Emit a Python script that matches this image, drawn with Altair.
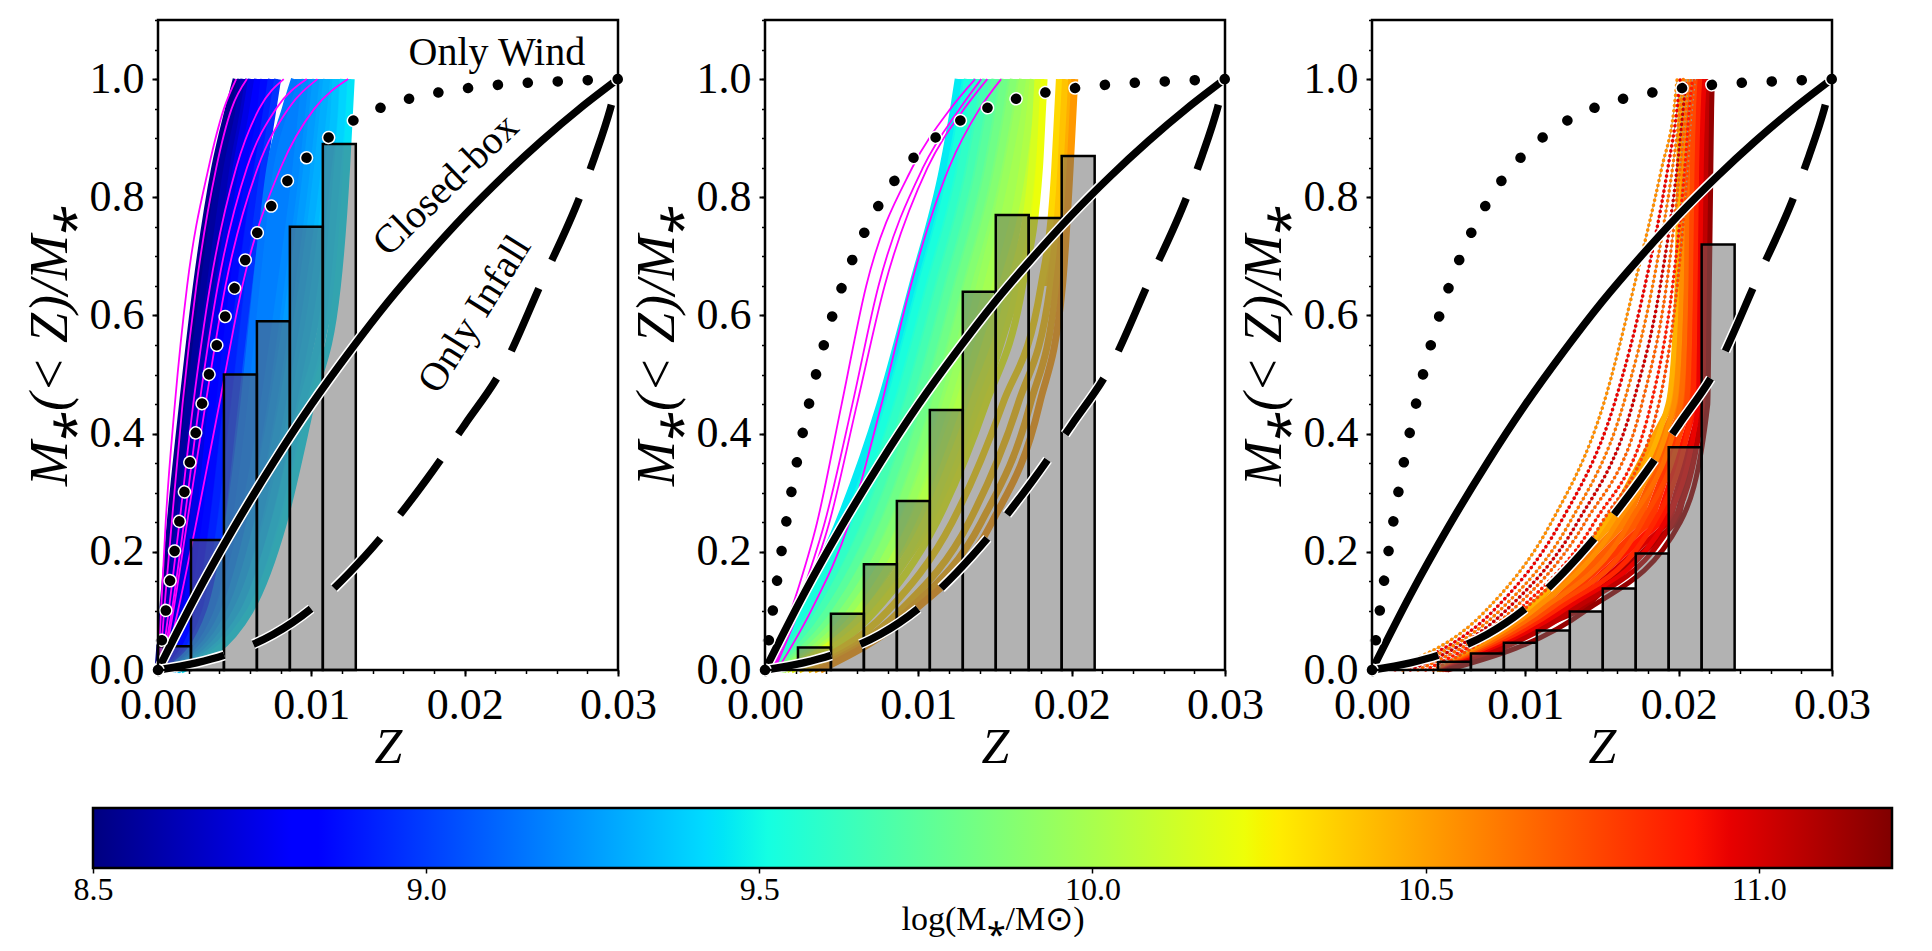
import altair as alt
import pandas as pd

FONT = "Liberation Serif"

# ---------------- data ----------------
# cumulative levels M*(<Z)/M* at which every galaxy curve is sampled
LEVELS = [0, 0.1, 0.25, 0.45, 0.65, 0.85, 0.95, 1.0]

# panel 1 : low-mass galaxies (Z reached at each level)
P1_MASS = [8.52, 8.57, 8.62, 8.67, 8.74, 8.80, 8.86, 8.92, 8.97,
           9.15, 9.20, 9.25, 9.30, 9.35, 9.40, 9.44]
P1_Z = [
    [0.0000, 0.0003, 0.0008, 0.0016, 0.0025, 0.0037, 0.0046, 0.0051],
    [0.00002, 0.0005, 0.0011, 0.0020, 0.0030, 0.0041, 0.0050, 0.0054],
    [0.0001, 0.0007, 0.0014, 0.0024, 0.0034, 0.0045, 0.0053, 0.0056],
    [0.0001, 0.0009, 0.0017, 0.0028, 0.0039, 0.0049, 0.0056, 0.0059],
    [0.0002, 0.0014, 0.0023, 0.0031, 0.0040, 0.0051, 0.0058, 0.0061],
    [0.0003, 0.0018, 0.0027, 0.0035, 0.0044, 0.0055, 0.0062, 0.0065],
    [0.0004, 0.0022, 0.0031, 0.0040, 0.0049, 0.0060, 0.0067, 0.0069],
    [0.0005, 0.0027, 0.0036, 0.0045, 0.0054, 0.0065, 0.0071, 0.0074],
    [0.0006, 0.0031, 0.0041, 0.0050, 0.0059, 0.0069, 0.0075, 0.0078],
    [0.0007, 0.0034, 0.0046, 0.0056, 0.0064, 0.0073, 0.0083, 0.0089],
    [0.0008, 0.0039, 0.0055, 0.0069, 0.0080, 0.0090, 0.0094, 0.0096],
    [0.0009, 0.0043, 0.0060, 0.0075, 0.0087, 0.0097, 0.0101, 0.0103],
    [0.0010, 0.0047, 0.0065, 0.0081, 0.0094, 0.0104, 0.0108, 0.0110],
    [0.0012, 0.0051, 0.0071, 0.0088, 0.0102, 0.0111, 0.0115, 0.0116],
    [0.0013, 0.0056, 0.0076, 0.0094, 0.0110, 0.0117, 0.0120, 0.0121],
    [0.0015, 0.0060, 0.0082, 0.0100, 0.0117, 0.0123, 0.0125, 0.0126],
]
P1_MAGENTA_Z = [
    [0.0000, 0.0002, 0.0005, 0.0011, 0.0019, 0.0033, 0.0043, 0.0051],
    [0.0001, 0.0004, 0.0009, 0.0016, 0.0025, 0.0038, 0.0048, 0.0058],
    [0.0002, 0.0009, 0.0017, 0.0027, 0.0039, 0.0058, 0.0077, 0.0097],
    [0.0002, 0.0007, 0.0014, 0.0023, 0.0034, 0.0051, 0.0066, 0.0082],
    [0.0003, 0.0010, 0.0019, 0.0031, 0.0044, 0.0065, 0.0085, 0.0104],
    [0.0004, 0.0013, 0.0025, 0.0040, 0.0055, 0.0080, 0.0102, 0.0124],
]
# filled fans between neighbouring curves: (curve a, curve b, first level, last level)
P1_BANDS = [(0, 1, 0, 7), (1, 2, 0, 7), (2, 3, 0, 7), (3, 4, 0, 5),
            (4, 5, 0, 7), (5, 6, 0, 7), (6, 7, 0, 7), (7, 8, 0, 7), (8, 9, 0, 5),
            (9, 10, 0, 7), (10, 11, 0, 7), (11, 12, 0, 7), (12, 13, 0, 7),
            (13, 14, 0, 7), (14, 15, 0, 7)]

# panel 2 : intermediate masses
P2_MASS = [9.46, 9.53, 9.60, 9.67, 9.74, 9.81, 9.88, 9.95, 10.02,
           10.15, 10.22, 10.34, 10.40, 10.46, 10.52]
P2_Z = [
    [0.0004, 0.0021, 0.0048, 0.0075, 0.0096, 0.0116, 0.0123, 0.0126],
    [0.0005, 0.0026, 0.0054, 0.0081, 0.0102, 0.0122, 0.0129, 0.0132],
    [0.0006, 0.0031, 0.0060, 0.0087, 0.0108, 0.0128, 0.0135, 0.0138],
    [0.0007, 0.0036, 0.0066, 0.0093, 0.0114, 0.0134, 0.0141, 0.0144],
    [0.0008, 0.0041, 0.0072, 0.0099, 0.0120, 0.0140, 0.0147, 0.0150],
    [0.0009, 0.0046, 0.0078, 0.0105, 0.0126, 0.0146, 0.0153, 0.0156],
    [0.0010, 0.0051, 0.0084, 0.0111, 0.0132, 0.0152, 0.0159, 0.0162],
    [0.0011, 0.0056, 0.0090, 0.0118, 0.0140, 0.0158, 0.0165, 0.0168],
    [0.0012, 0.0061, 0.0096, 0.0126, 0.0150, 0.0168, 0.0173, 0.0175],
    [0.0014, 0.0066, 0.0104, 0.0135, 0.0160, 0.0174, 0.0177, 0.0178],
    [0.0017, 0.0072, 0.0112, 0.0144, 0.0168, 0.0179, 0.0181, 0.0182],
    [0.0022, 0.0080, 0.0122, 0.0155, 0.0180, 0.0189, 0.0191, 0.0192],
    [0.0028, 0.0088, 0.0133, 0.0165, 0.0186, 0.0193, 0.0195, 0.0196],
    [0.0032, 0.0093, 0.0141, 0.0173, 0.0190, 0.0197, 0.0199, 0.0200],
    [0.0036, 0.0097, 0.0148, 0.0179, 0.0194, 0.0199, 0.0201, 0.0202],
]
P2_MAGENTA_Z = [
    [0.0004, 0.0017, 0.0034, 0.0050, 0.0066, 0.0096, 0.0121, 0.0137],
    [0.0005, 0.0020, 0.0039, 0.0057, 0.0074, 0.0103, 0.0127, 0.0141],
    [0.0006, 0.0022, 0.0042, 0.0060, 0.0078, 0.0106, 0.0130, 0.0145],
    [0.0008, 0.0030, 0.0055, 0.0076, 0.0095, 0.0120, 0.0140, 0.0154],
]
P2_BANDS = [(0, 1, 0, 7), (1, 2, 0, 7), (2, 3, 0, 7), (3, 4, 0, 7),
            (4, 5, 0, 7), (5, 6, 0, 7), (6, 7, 0, 7), (7, 8, 0, 7),
            (8, 9, 0, 6), (9, 10, 0, 7), (11, 12, 4, 7), (13, 14, 4, 7)]

# panel 3 : massive galaxies
P3_SPARSE_MASS = [10.55, 10.95, 10.62, 11.02, 10.68, 10.88, 10.75]
P3_SPARSE_Z = [
    [0.0010, 0.0074, 0.0117, 0.0151, 0.0171, 0.0189, 0.0197, 0.0199],
    [0.0015, 0.0079, 0.0123, 0.0158, 0.0178, 0.0193, 0.0199, 0.0201],
    [0.0020, 0.0083, 0.0129, 0.0164, 0.0183, 0.0196, 0.0201, 0.0203],
    [0.0025, 0.0087, 0.0134, 0.0170, 0.0188, 0.0199, 0.0203, 0.0205],
    [0.0030, 0.0091, 0.0139, 0.0176, 0.0192, 0.0201, 0.0205, 0.0207],
    [0.0035, 0.0095, 0.0145, 0.0182, 0.0196, 0.0204, 0.0207, 0.0209],
    [0.0040, 0.0098, 0.0150, 0.0187, 0.0199, 0.0206, 0.0209, 0.0211],
]
P3_DENSE_MASS = [10.45, 10.55, 10.65, 10.75, 10.85, 10.95, 11.05, 11.15]
P3_DENSE_Z = [
    [0.0042, 0.0100, 0.0152, 0.0193, 0.0199, 0.0200, 0.0201, 0.0202],
    [0.0043, 0.0105, 0.0160, 0.0197, 0.0202, 0.0203, 0.0204, 0.0205],
    [0.0044, 0.0110, 0.0168, 0.0201, 0.0205, 0.0206, 0.0207, 0.0208],
    [0.0045, 0.0115, 0.0176, 0.0205, 0.0208, 0.0209, 0.0210, 0.0211],
    [0.0046, 0.0120, 0.0184, 0.0209, 0.0211, 0.0212, 0.0213, 0.0214],
    [0.0047, 0.0125, 0.0191, 0.0213, 0.0214, 0.0215, 0.0216, 0.0217],
    [0.0048, 0.0130, 0.0196, 0.0216, 0.0217, 0.0218, 0.0219, 0.0220],
    [0.0049, 0.0139, 0.0201, 0.0219, 0.0220, 0.0221, 0.02215, 0.0222],
]
P3_BANDS = [(0, 1, 0, 7), (1, 2, 0, 7), (2, 3, 0, 7), (3, 4, 0, 7),
            (4, 5, 0, 7), (5, 6, 0, 7), (6, 7, 0, 7)]

# histograms (common bin edges)
EDGES = [0, 0.00215, 0.0043, 0.00645, 0.0086, 0.01075, 0.0129,
         0.01505, 0.0172, 0.01935, 0.0215, 0.02365]
P1_HIST_FIRST, P1_HIST = 0, [0.04, 0.22, 0.50, 0.59, 0.75, 0.89]
P2_HIST_FIRST, P2_HIST = 1, [0.038, 0.095, 0.179, 0.286, 0.44, 0.64, 0.77, 0.765, 0.87]
P3_HIST_FIRST, P3_HIST = 2, [0.014, 0.028, 0.046, 0.067, 0.099, 0.138, 0.197, 0.377, 0.72]

# analytic models
WIND_Z = [0, 0.0005, 0.001, 0.0015, 0.002, 0.003, 0.004, 0.005, 0.006, 0.007, 0.008,
          0.009, 0.010, 0.012, 0.014, 0.016, 0.018, 0.020, 0.023, 0.026, 0.030]
WIND_V = [0, 0.099, 0.188, 0.268, 0.341, 0.465, 0.565, 0.647, 0.713, 0.767, 0.811,
          0.847, 0.875, 0.918, 0.946, 0.964, 0.976, 0.984, 0.992, 0.996, 1.0]
BOX_Z = [0, 0.0025, 0.005, 0.0075, 0.01, 0.0125, 0.015, 0.0175, 0.02, 0.0225, 0.025, 0.0275, 0.03]
BOX_V = [0, 0.127, 0.243, 0.350, 0.449, 0.539, 0.623, 0.699, 0.770, 0.835, 0.895, 0.950, 1.0]
INF_Z = [0, 0.0025, 0.005, 0.0075, 0.01, 0.0125, 0.015, 0.0175, 0.02, 0.0225, 0.025,
         0.0275, 0.0285, 0.0295, 0.03]
INF_V = [0, 0.012, 0.031, 0.060, 0.104, 0.165, 0.238, 0.322, 0.415, 0.512, 0.655,
         0.80, 0.87, 0.95, 1.0]

ANNOT_TEXT = ["Only Wind", "Closed-box", "Only Infall"]
ANNOT_Z = [0.0221, 0.01878, 0.02067]
ANNOT_V = [1.024, 0.8206, 0.602]

# jet colour map, log(M*/Msun) from 8.5 to 11.2
CBAR_MIN, CBAR_MAX = 8.5, 11.2
JET_DOMAIN = [8.5, 8.797, 8.8375, 9.418, 9.445, 9.5125, 10.228, 10.255, 10.282, 10.903, 10.957, 11.2]
JET_COLORS = ["#000080", "#0000ff", "#0000ff", "#00dbff", "#00e5f7", "#14ffe2",
              "#eeff08", "#f7f500", "#ffec00", "#ff1300", "#e80000", "#800000"]
CBAR_TICKS = [8.5, 9.0, 9.5, 10.0, 10.5, 11.0]

X_DOMAIN = [0, 0.03]
Y_DOMAIN = [0, 1.1]
X_TICKS = [0, 0.01, 0.02, 0.03]
Y_TICKS = [0, 0.2, 0.4, 0.6, 0.8, 1.0]
X_MINOR = [0, 0.002, 0.004, 0.006, 0.008, 0.010, 0.012, 0.014, 0.016, 0.018,
           0.020, 0.022, 0.024, 0.026, 0.028, 0.030]
Y_MINOR = [0, 0.05, 0.1, 0.15, 0.2, 0.25, 0.3, 0.35, 0.4, 0.45, 0.5, 0.55,
           0.6, 0.65, 0.7, 0.75, 0.8, 0.85, 0.9, 0.95, 1.0, 1.05, 1.1]

# ---------------- tables ----------------
def curve_table(masses, rows, tag):
    out = []
    for k, zs in enumerate(rows):
        m = masses[k] if masses is not None else 0.0
        for lv, z in zip(LEVELS, zs):
            out.append({"cid": f"{tag}{k}", "mass": m, "z": z, "v": lv})
    return pd.DataFrame(out)


def band_table(masses, rows, specs, tag):
    out = []
    for b, (i, j, lo, hi) in enumerate(specs):
        m = round((masses[i] + masses[j]) / 2, 4)
        for li in range(lo, hi + 1):
            out.append({"bid": f"{tag}{b}", "mass": m, "v": LEVELS[li],
                        "zl": rows[i][li], "zr": rows[j][li]})
    return pd.DataFrame(out)


def hist_table(first, heights):
    out = []
    for k, h in enumerate(heights):
        out.append({"z0": EDGES[first + k], "z1": EDGES[first + k + 1], "h": h, "base": 0.0})
    return pd.DataFrame(out)


WIND = pd.DataFrame({"z": WIND_Z, "v": WIND_V})
BOX = pd.DataFrame({"z": BOX_Z, "v": BOX_V})
INF = pd.DataFrame({"z": INF_Z, "v": INF_V})
FRAME = pd.DataFrame({"x0": [X_DOMAIN[0]], "x1": [X_DOMAIN[1]], "y0": [Y_DOMAIN[0]], "y1": [Y_DOMAIN[1]]})
CBAR = pd.DataFrame({"lo": [CBAR_MIN], "hi": [CBAR_MAX], "b": [0.0], "t": [1.0]})
SPACER = pd.DataFrame({"a": [0]})

# ---------------- scales / guides ----------------
XS = alt.Scale(domain=X_DOMAIN, nice=False, zero=False)
YS = alt.Scale(domain=Y_DOMAIN, nice=False, zero=False)
CS = alt.Scale(domain=JET_DOMAIN, range=JET_COLORS, interpolate="rgb")

AX_X = alt.Axis(orient="bottom", values=X_TICKS, format=".2f", labelFont=FONT, labelFontSize=44,
                labelColor="black", labelPadding=7, labelFlush=False, labelOverlap=False,
                tickSize=6, tickWidth=2, tickColor="black", domain=False, grid=False,
                title="Z", titleFont=FONT, titleFontStyle="italic", titleFontSize=50,
                titleFontWeight="normal", titleColor="black", titlePadding=-5)
AX_Y = alt.Axis(orient="left", values=Y_TICKS, format=".1f", labelFont=FONT, labelFontSize=44,
                labelColor="black", labelPadding=8, labelFlush=False, labelOverlap=False,
                tickSize=6, tickWidth=2, tickColor="black", domain=False, grid=False,
                title="M⁎(< Z)/M⁎", titleFont=FONT, titleFontStyle="italic", titleFontSize=54,
                titleFontWeight="normal", titleColor="black", titlePadding=12)
AX_XM = alt.Axis(orient="bottom", values=X_MINOR, labels=False, tickSize=3.5, tickWidth=1.5,
                 tickColor="black", domain=False, grid=False, title=None)
AX_YM = alt.Axis(orient="left", values=Y_MINOR, labels=False, tickSize=3.5, tickWidth=1.5,
                 tickColor="black", domain=False, grid=False, title=None)
AX_CBAR = alt.Axis(orient="bottom", values=CBAR_TICKS, format=".1f", labelFont=FONT,
                   labelFontSize=32, labelColor="black", labelPadding=1, labelFlush=False,
                   labelOverlap=False, tickSize=5, tickWidth=1.5, tickColor="black",
                   domain=False, grid=False, title="log(M⁎/M⊙)", titleFont=FONT,
                   titleFontSize=34, titleFontWeight="normal", titleColor="black", titlePadding=-3)


def band_layer(df):
    return alt.Chart(df).mark_area(orient="horizontal", interpolate="linear", opacity=1).encode(
        y=alt.Y("v:Q", scale=YS, axis=None),
        x=alt.X("zl:Q", scale=XS, axis=None),
        x2="zr",
        color=alt.Color("mass:Q", scale=CS, legend=None),
        detail="bid:N",
    )


def line_layer(df, **mark):
    return alt.Chart(df).mark_line(interpolate="monotone", **mark).encode(
        x=alt.X("z:Q", scale=XS, axis=None),
        y=alt.Y("v:Q", scale=YS, axis=None),
        color=alt.Color("mass:Q", scale=CS, legend=None),
        detail="cid:N",
        order="v:Q",
    )


def fixed_line_layer(df, color, **mark):
    return alt.Chart(df).mark_line(interpolate="monotone", color=color, **mark).encode(
        x=alt.X("z:Q", scale=XS, axis=None),
        y=alt.Y("v:Q", scale=YS, axis=None),
        detail="cid:N",
        order="v:Q",
    )


def hist_layer(df):
    return alt.Chart(df).mark_rect(color="#666666", fillOpacity=0.5, stroke="black",
                                   strokeWidth=2.5, strokeOpacity=1).encode(
        x=alt.X("z0:Q", scale=XS, axis=AX_X),
        x2="z1:Q",
        y=alt.Y("h:Q", scale=YS, axis=AX_Y),
        y2="base:Q",
    )


def frame_layer():
    return alt.Chart(FRAME).mark_rect(fillOpacity=0, stroke="black", strokeWidth=2.5).encode(
        x=alt.X("x0:Q", scale=XS, axis=None), x2="x1:Q",
        y=alt.Y("y0:Q", scale=YS, axis=None), y2="y1:Q",
    )


def model_layers():
    out = []
    out.append(alt.Chart(BOX).mark_line(interpolate="monotone", color="white", strokeWidth=10.5).encode(
        x=alt.X("z:Q", scale=XS, axis=AX_XM), y=alt.Y("v:Q", scale=YS, axis=AX_YM), order="v:Q"))
    out.append(alt.Chart(BOX).mark_line(interpolate="monotone", color="black", strokeWidth=7.5).encode(
        x=alt.X("z:Q", scale=XS, axis=None), y=alt.Y("v:Q", scale=YS, axis=None), order="v:Q"))
    out.append(alt.Chart(INF).mark_line(interpolate="monotone", color="white", strokeWidth=10.5,
                                        strokeDash=[68, 31]).encode(
        x=alt.X("z:Q", scale=XS, axis=None), y=alt.Y("v:Q", scale=YS, axis=None), order="v:Q"))
    out.append(alt.Chart(INF).mark_line(interpolate="monotone", color="black", strokeWidth=7.5,
                                        strokeDash=[68, 31]).encode(
        x=alt.X("z:Q", scale=XS, axis=None), y=alt.Y("v:Q", scale=YS, axis=None), order="v:Q"))
    out.append(alt.Chart(WIND).mark_line(interpolate="monotone", color="white", strokeWidth=13.5,
                                         strokeCap="round", strokeDash=[0.1, 29.9]).encode(
        x=alt.X("z:Q", scale=XS, axis=None), y=alt.Y("v:Q", scale=YS, axis=None), order="v:Q"))
    out.append(alt.Chart(WIND).mark_line(interpolate="monotone", color="black", strokeWidth=10.5,
                                         strokeCap="round", strokeDash=[0.1, 29.9]).encode(
        x=alt.X("z:Q", scale=XS, axis=None), y=alt.Y("v:Q", scale=YS, axis=None), order="v:Q"))
    return out


def text_layers():
    ann = pd.DataFrame({"label": ANNOT_TEXT, "z": ANNOT_Z, "v": ANNOT_V})
    styles = [dict(angle=0, baseline="alphabetic"),
              dict(angle=316, baseline="middle"),
              dict(angle=302, baseline="middle")]
    out = []
    for k, st in enumerate(styles):
        out.append(alt.Chart(ann.iloc[[k]]).mark_text(font=FONT, fontSize=40, color="black",
                                                       align="center", **st).encode(
            x=alt.X("z:Q", scale=XS, axis=None), y=alt.Y("v:Q", scale=YS, axis=None),
            text="label:N"))
    return out


def colorbar_chart():
    span = CBAR_MAX - CBAR_MIN
    stops = [alt.GradientStop(offset=round((d - CBAR_MIN) / span, 5), color=c)
             for d, c in zip(JET_DOMAIN, JET_COLORS)]
    grad = alt.LinearGradient(gradient="linear", stops=stops, x1=0, x2=1, y1=0, y2=0)
    return alt.Chart(CBAR).mark_rect(fill=grad, stroke="black", strokeWidth=2.5).encode(
        x=alt.X("lo:Q", scale=alt.Scale(domain=[CBAR_MIN, CBAR_MAX], nice=False, zero=False),
                axis=AX_CBAR),
        x2="hi:Q",
        y=alt.Y("b:Q", scale=alt.Scale(domain=[0, 1], nice=False, zero=False), axis=None),
        y2="t:Q",
    ).properties(width=1799, height=60)


def panel(layers):
    return alt.layer(*layers).resolve_axis(x="independent", y="independent").properties(
        width=460, height=650)


p1_layers = [
    band_layer(band_table(P1_MASS, P1_Z, P1_BANDS, "b1_")),
    line_layer(curve_table(P1_MASS, P1_Z, "c1_"), strokeWidth=7),
    fixed_line_layer(curve_table(None, P1_MAGENTA_Z, "m1_"), "#ff00ff", strokeWidth=1.8),
    hist_layer(hist_table(P1_HIST_FIRST, P1_HIST)),
] + model_layers() + text_layers() + [frame_layer()]

p2_layers = [
    band_layer(band_table(P2_MASS, P2_Z, P2_BANDS, "b2_")),
    line_layer(curve_table(P2_MASS, P2_Z, "c2_"), strokeWidth=7),
    fixed_line_layer(curve_table(None, P2_MAGENTA_Z, "m2_"), "#ff00ff", strokeWidth=1.8),
    hist_layer(hist_table(P2_HIST_FIRST, P2_HIST)),
] + model_layers() + [frame_layer()]

p3_layers = [
    band_layer(band_table(P3_DENSE_MASS, P3_DENSE_Z, P3_BANDS, "b3_")),
    line_layer(curve_table(P3_DENSE_MASS, P3_DENSE_Z, "d3_"), strokeWidth=5),
    fixed_line_layer(curve_table(None, P3_SPARSE_Z, "g3_"), "#9a9a9a", strokeWidth=1),
    line_layer(curve_table(P3_SPARSE_MASS, P3_SPARSE_Z, "s3_"), strokeWidth=3.5,
               strokeCap="round", strokeDash=[0.1, 5]),
    hist_layer(hist_table(P3_HIST_FIRST, P3_HIST)),
] + model_layers() + [frame_layer()]

panels = alt.hconcat(panel(p1_layers), panel(p2_layers), panel(p3_layers),
                     spacing=147, bounds="flush")
spacer = alt.Chart(SPACER).mark_point(opacity=0).properties(width=1, height=650)
top_row = alt.hconcat(spacer, panels, spacing=64, bounds="flush")

chart = alt.vconcat(top_row, colorbar_chart(), spacing=788, bounds="flush").properties(
    padding={"left": 14, "top": 10, "right": 5, "bottom": 0}
).configure_view(stroke="transparent")

chart.save("out.html", embed_options={"renderer": "svg", "actions": False})
